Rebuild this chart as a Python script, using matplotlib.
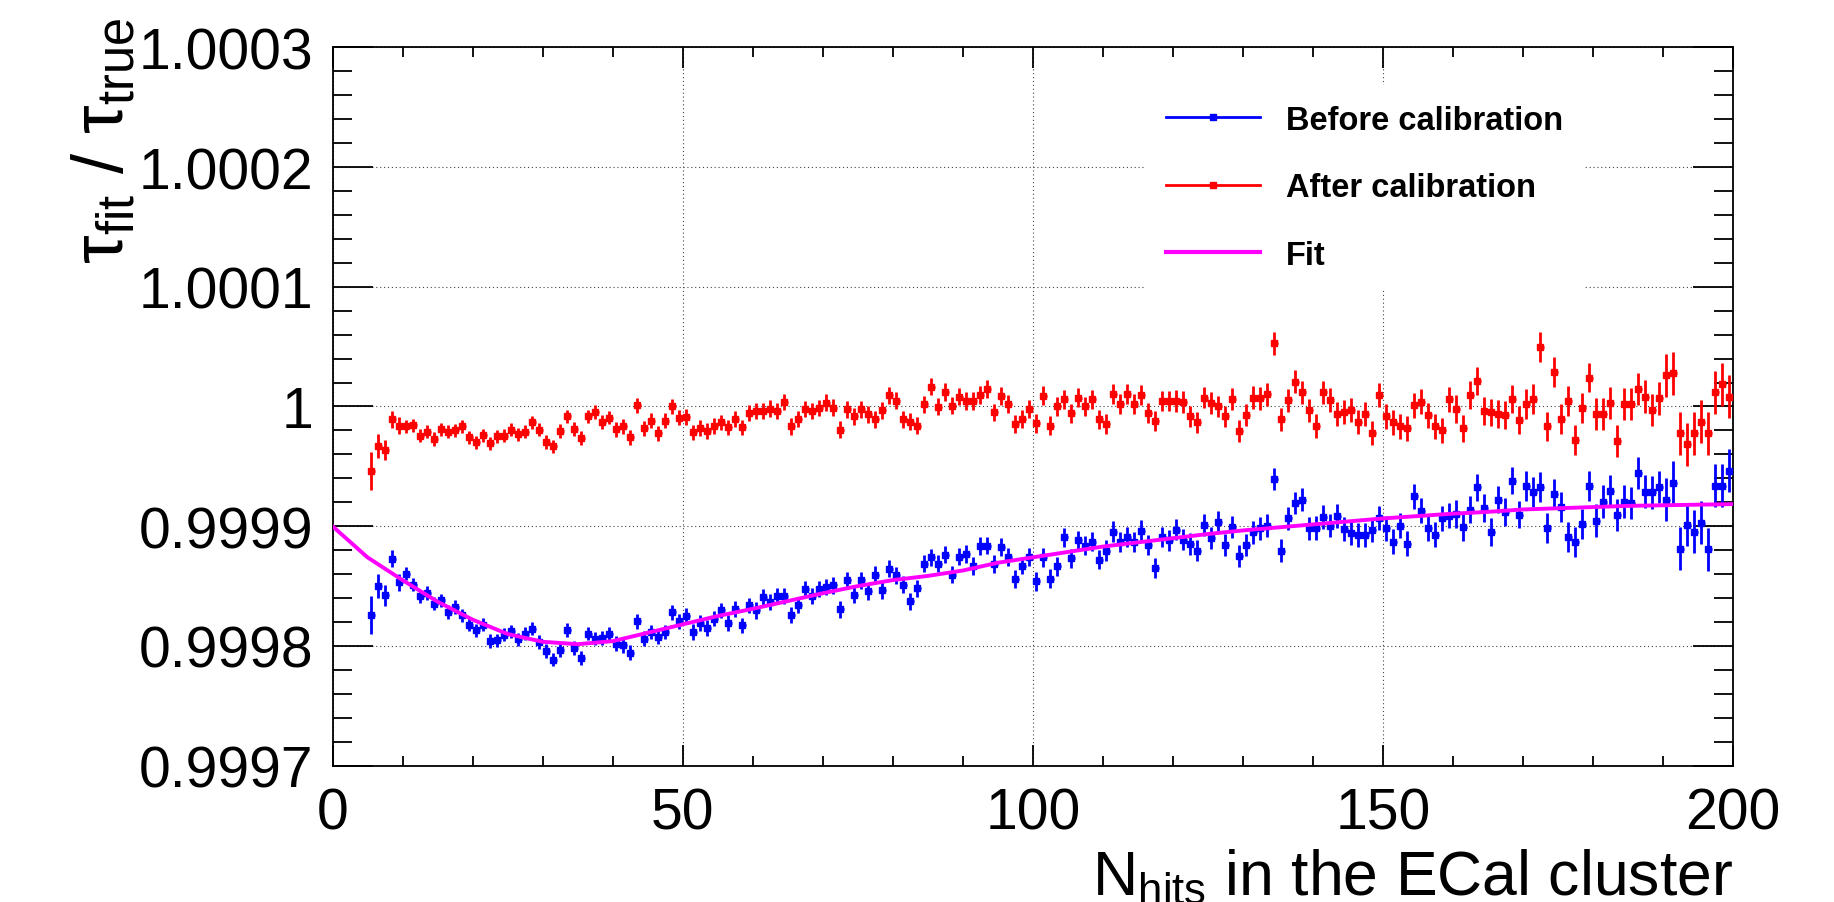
import numpy as np
import matplotlib
matplotlib.use("Agg")
import matplotlib.pyplot as plt
from matplotlib.lines import Line2D
from matplotlib.ticker import FixedLocator, MultipleLocator, FuncFormatter

plt.rcParams['font.family'] = ['Liberation Sans', 'DejaVu Sans']
plt.rcParams['mathtext.fontset'] = 'custom'
plt.rcParams['mathtext.rm'] = 'Liberation Sans'
plt.rcParams['mathtext.it'] = 'Liberation Sans:italic'
plt.rcParams['mathtext.bf'] = 'Liberation Sans:bold'

# bins 5..199, points at bin centres
nhits = np.arange(5, 200) + 0.5

# deviations from 1, in units of 1e-5
before = [
    -17.44, -15.0, -15.78, -12.72, -14.67,
    -13.97, -14.89, -15.86, -15.58, -16.47, -16.19, -17.17, -16.75, -17.44, -18.22,
    -18.69, -18.22, -19.58, -19.53, -19.06, -18.78, -19.44, -18.97, -18.56, -19.67,
    -20.44, -21.14, -20.36, -18.64, -20.17, -21.0, -18.97, -19.39, -19.33, -19.0,
    -19.81, -19.94, -20.58, -17.94, -19.39, -18.83, -19.25, -18.83, -17.17, -17.94,
    -17.5, -18.83, -18.06, -18.5, -17.72, -17.03, -18.06, -16.89, -18.28, -16.61,
    -17.03, -15.92, -16.33, -15.83, -15.83, -17.39, -16.56, -15.22, -15.83, -15.22,
    -15.08, -14.94, -16.94, -14.53, -15.72, -14.53, -15.44, -14.06, -15.36, -13.56,
    -14.11, -14.89, -16.28, -15.17, -13.14, -12.58, -13.14, -12.39, -14.06, -12.53,
    -12.31, -13.33, -11.67, -11.61, -13.14, -11.75, -12.58, -14.39, -13.28, -12.58,
    -14.61, -12.58, -14.39, -13.33, -10.92, -12.67, -11.19, -11.61, -11.28, -12.78,
    -12.03, -10.44, -11.33, -10.92, -11.33, -10.36, -11.56, -13.5, -10.92, -11.19,
    -10.28, -11.11, -11.47, -12.03, -9.89, -11.0, -9.61, -11.56, -10.08, -12.5,
    -11.56, -10.5, -10.17, -9.94, -6.06, -12.03, -9.33, -8.06, -7.78, -10.17,
    -10.17, -9.25, -9.94, -9.17, -10.22, -10.56, -10.72, -10.72, -10.28, -9.33,
    -10.17, -11.28, -9.94, -11.47, -7.5, -8.69, -10.17, -10.72, -9.33, -9.11,
    -8.97, -10.08, -8.61, -6.75, -8.47, -10.5, -7.78, -8.83, -6.19, -9.03,
    -6.61, -7.17, -6.75, -10.17, -7.31, -8.42, -10.92, -11.28, -9.81, -6.61,
    -9.53, -7.94, -7.03, -9.06, -7.94, -8.06, -5.56, -7.11, -7.17, -6.75,
    -7.78, -6.39, -11.89, -9.89, -10.44, -9.72, -11.94, -6.61, -6.61, -5.36,
]
after = [
    -5.36, -3.33, -3.61, -1.06, -1.61,
    -1.67, -1.56, -2.44, -2.11, -2.72, -1.89, -2.11, -1.97, -1.67, -2.58,
    -3.0, -2.39, -3.06, -2.5, -2.44, -1.94, -2.33, -2.11, -1.33, -1.94,
    -2.94, -3.33, -2.03, -0.83, -1.89, -2.61, -0.83, -0.44, -1.28, -0.92,
    -1.89, -1.67, -2.58, 0.11, -1.83, -1.19, -2.22, -1.19, 0.0, -0.92,
    -0.86, -2.17, -1.78, -2.03, -1.61, -1.33, -1.75, -1.06, -1.75, -0.56,
    -0.36, -0.36, -0.17, -0.36, 0.39, -1.67, -1.06, -0.22, -0.36, -0.14,
    0.33, -0.11, -1.94, -0.22, -0.83, -0.22, -0.64, -1.06, -0.31, 0.94,
    0.47, -1.06, -1.28, -1.61, 0.19, 1.67, -0.03, 1.22, 0.06, 0.81,
    0.47, 0.47, 0.94, 1.5, -0.5, 0.89, 0.19, -1.47, -1.06, -0.22,
    -1.39, 0.89, -1.61, 0.0, 0.61, -0.56, 0.75, 0.0, 0.61, -1.06,
    -1.47, 1.03, 0.19, 1.03, 0.19, 0.94, -0.56, -1.19, 0.47, 0.47,
    0.47, 0.39, -0.83, -1.33, 0.75, 0.28, 0.0, -0.83, 0.61, -2.03,
    -0.72, 0.75, 0.67, 1.03, 5.28, -1.06, 0.53, 2.06, 1.17, -0.31,
    -1.61, 1.17, 0.53, -0.64, -0.44, -0.31, -1.28, -0.64, -2.22, 0.94,
    -0.83, -1.33, -1.67, -1.83, 0.11, 0.39, -0.72, -1.67, -1.97, 0.61,
    -0.22, -1.83, 0.94, 2.14, -0.36, -0.5, -0.64, -0.72, 0.61, -1.11,
    0.19, 0.61, 5.0, -1.67, 2.89, -1.06, 0.47, -2.78, -0.14, 2.42,
    -0.64, -0.64, 0.28, -2.86, 0.19, 0.19, 1.44, 0.83, -0.28, 0.67,
    2.61, 2.78, -2.22, -3.14, -2.22, -1.28, -2.22, 1.17, 1.86, 0.83,
]
# error bar half heights (1e-5), one value per block of ten bins, first block is 5..9
err_block = [0.7, 0.55, 0.55, 0.57, 0.62, 0.65, 0.68, 0.7, 0.72, 0.75,
             0.8, 0.85, 0.9, 0.95, 1.0, 1.05, 1.15, 1.25, 1.35, 1.8]
err_first = [1.6, 1.0, 0.85]

# fit curve, read every 5 hits
fit_x = np.arange(0, 205, 5)
fit_y = [-10.0, -12.6, -14.5, -16.3, -17.8, -19.0, -19.65, -19.85, -19.6, -18.9,
         -18.2, -17.5, -16.9, -16.25, -15.6, -15.0, -14.5, -14.15, -13.7, -13.05,
         -12.6, -12.15, -11.7, -11.35, -11.0, -10.65, -10.35, -10.1, -9.85, -9.6,
         -9.35, -9.15, -8.95, -8.8, -8.6, -8.5, -8.4, -8.3, -8.25, -8.2, -8.15]

yticks = [0.9997, 0.9998, 0.9999, 1.0, 1.0001, 1.0002, 1.0003]

err = np.concatenate([[err_block[0]] * 5] + [[e] * 10 for e in err_block[1:]])
err[:3] = err_first
scale = 1e-5

W, H = 1834, 903
fig = plt.figure(figsize=(W / 100, H / 100), dpi=100)
ax = fig.add_axes([332.5 / W, 1 - 766.7 / H, (1733 - 332.5) / W, (766.7 - 48.3) / H])

ax.errorbar(nhits, 1 + np.array(before) * scale, yerr=err * scale, xerr=0.5,
            fmt='s', color='blue', ms=5, elinewidth=2.0, capsize=0, zorder=3)
ax.errorbar(nhits, 1 + np.array(after) * scale, yerr=err * scale, xerr=0.5,
            fmt='s', color='red', ms=5, elinewidth=2.0, capsize=0, zorder=3)
ax.plot(fit_x, 1 + np.array(fit_y) * scale, color='magenta', lw=2.8, zorder=4)

ax.set_xlim(0, 200)
ax.set_ylim(0.9997, 1.0003)
ax.xaxis.set_major_locator(MultipleLocator(50))
ax.xaxis.set_minor_locator(MultipleLocator(10))
ax.yaxis.set_major_locator(FixedLocator(yticks))
ax.yaxis.set_minor_locator(MultipleLocator(0.00002))
ax.yaxis.set_major_formatter(FuncFormatter(lambda v, p: '%g' % round(v, 6)))

ax.tick_params(which='both', direction='in', top=True, right=True, width=1.3,
               labelsize=41, colors='black')
ax.tick_params(axis='y', which='major', length=29, pad=14)
ax.tick_params(axis='y', which='minor', length=14)
ax.tick_params(axis='x', which='major', length=15, pad=15)
ax.tick_params(axis='x', which='minor', length=7)
for s in ax.spines.values():
    s.set_linewidth(1.3)

ax.grid(True, which='major', color='#444444', linestyle=(0, (1, 2.5)), lw=0.8)
ax.set_axisbelow(True)

handles = [Line2D([], [], color='blue', marker='s', ms=4.5, lw=2),
           Line2D([], [], color='red', marker='s', ms=4.5, lw=2),
           Line2D([], [], color='magenta', lw=3)]
leg = ax.legend(handles, ['Before calibration', 'After calibration', 'Fit'],
                loc='upper left', bbox_to_anchor=(1146 / W, 1 - 86 / H),
                bbox_transform=fig.transFigure, prop={'weight': 'bold', 'size': 23.5},
                frameon=True, fancybox=False, framealpha=1, edgecolor='none',
                borderaxespad=0, borderpad=0.6, handlelength=2.9, handletextpad=0.8,
                labelspacing=1.12)
leg.set_zorder(5)

fig.text(70 / W, 1 - 17 / H, 'τ$_{\\mathrm{fit}}$ / τ$_{\\mathrm{true}}$',
         rotation=90, ha='left', va='top', fontsize=52)
fig.text(1733 / W, 1 - 895 / H, 'N$_{\\mathrm{hits}}$ in the ECal cluster',
         ha='right', va='baseline', fontsize=45)

fig.savefig('out.png', dpi=100)
